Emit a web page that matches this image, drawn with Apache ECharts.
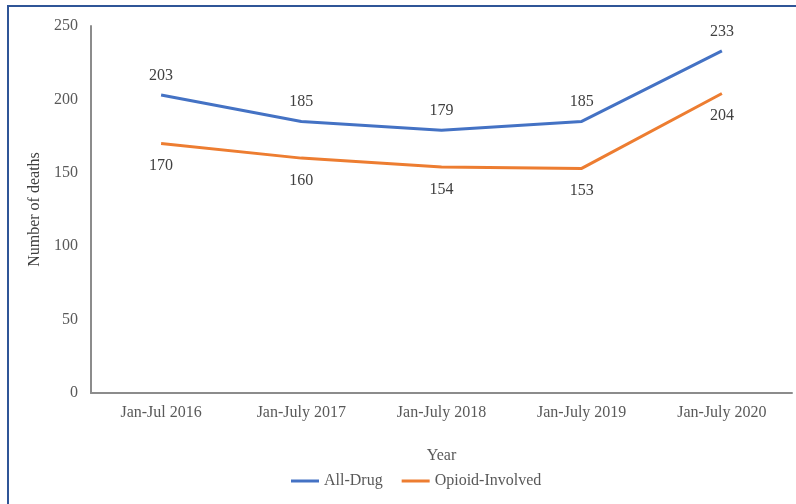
<!DOCTYPE html>
<html><head><meta charset="utf-8">
<script src="https://cdn.jsdelivr.net/npm/echarts@6/dist/echarts.min.js"></script>
<style>html,body{margin:0;padding:0;background:#fff}#c{width:796px;height:504px}</style>
</head><body><div id="c"></div>
<script>
const categories = ['Jan-Jul 2016', 'Jan-July 2017', 'Jan-July 2018', 'Jan-July 2019', 'Jan-July 2020'];
const allDrug = [203, 185, 179, 185, 233];
const opioid = [170, 160, 154, 153, 204];
const seriesNames = ['All-Drug', 'Opioid-Involved'];
const colors = ['#4472C4', '#ED7D31'];
const FONT = '"Liberation Serif", "Times New Roman", serif';
const chart = echarts.init(document.getElementById('c'));
chart.setOption({
  backgroundColor: '#fff',
  animation: false,
  textStyle: { fontFamily: FONT },
  graphic: [{ type: 'rect', shape: { x: 8, y: 6, width: 820, height: 520 }, style: { fill: 'none', stroke: '#2F5597', lineWidth: 2 }, silent: true }],
  grid: { left: 91, right: 4, top: 26, bottom: 111 },
  legend: {
    data: seriesNames.map((n, i) => ({ name: n, itemStyle: { color: colors[i], opacity: 1 } })),
    bottom: 10, left: 286, icon: 'rect', itemWidth: 28, itemHeight: 3, itemGap: 19,
    textStyle: { fontFamily: FONT, fontSize: 16, color: '#595959' }
  },
  xAxis: {
    type: 'category', data: categories, boundaryGap: true,
    name: 'Year', nameLocation: 'middle', nameGap: 55,
    nameTextStyle: { fontFamily: FONT, fontSize: 16, color: '#595959' },
    axisLine: { lineStyle: { color: '#8c8c8c', width: 2 } },
    axisTick: { show: false },
    axisLabel: { fontFamily: FONT, fontSize: 16, color: '#595959', margin: 12 }
  },
  yAxis: {
    type: 'value', min: 0, max: 250, interval: 50,
    name: 'Number of deaths', nameLocation: 'middle', nameGap: 40, nameRotate: 90,
    nameTextStyle: { fontFamily: FONT, fontSize: 16, color: '#404040' },
    axisLine: { show: true, lineStyle: { color: '#8c8c8c', width: 2 } },
    axisTick: { show: false },
    splitLine: { show: false },
    axisLabel: { fontFamily: FONT, fontSize: 16, color: '#595959', margin: 13 }
  },
  series: [
    { name: seriesNames[0], type: 'line', data: allDrug, color: colors[0],
      lineStyle: { width: 3, color: colors[0] }, symbol: 'circle', symbolSize: 1, showSymbol: true,
      itemStyle: { color: 'rgba(0,0,0,0)', borderWidth: 0 },
      label: { show: true, position: 'top', distance: 11, fontFamily: FONT, fontSize: 16, color: '#404040' } },
    { name: seriesNames[1], type: 'line', data: opioid, color: colors[1],
      lineStyle: { width: 3, color: colors[1] }, symbol: 'circle', symbolSize: 1, showSymbol: true,
      itemStyle: { color: 'rgba(0,0,0,0)', borderWidth: 0 },
      label: { show: true, position: 'bottom', distance: 14, fontFamily: FONT, fontSize: 16, color: '#404040' } }
  ]
});
</script></body></html>
